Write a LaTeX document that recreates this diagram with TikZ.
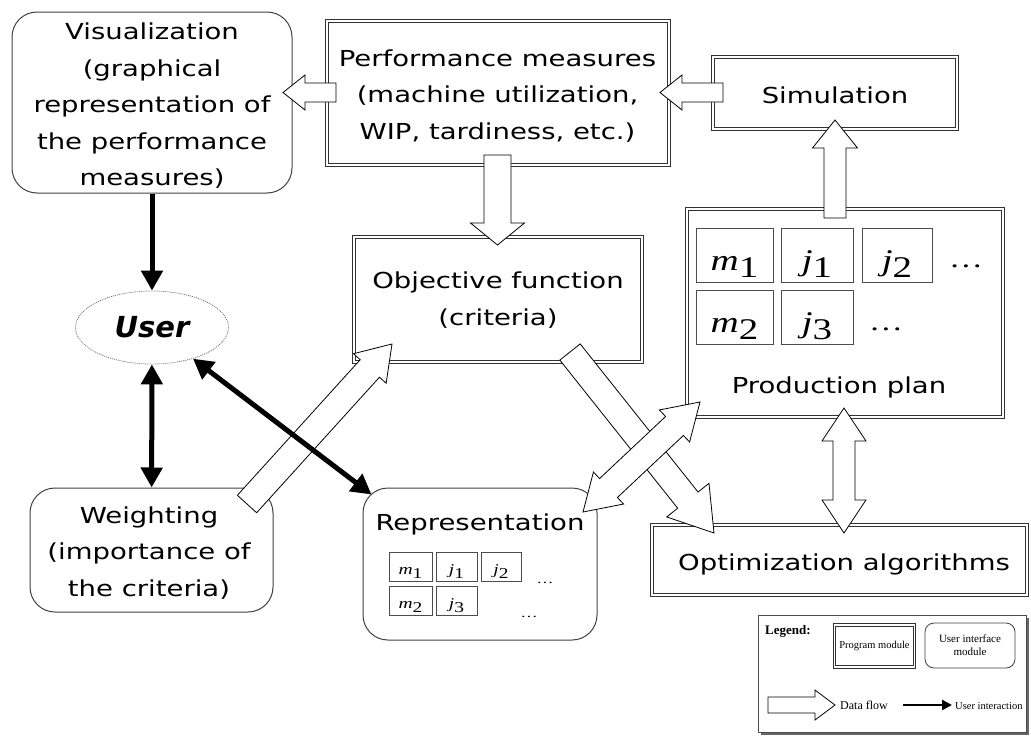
\documentclass[tikz,border=0pt]{standalone}
\usepackage{fontspec}
\usepackage{graphicx}
\usetikzlibrary{arrows.meta,calc,shapes.geometric}
\newfontfamily\mainf[FakeStretch=1.25]{DejaVu Sans}
\newfontfamily\userf{DejaVu Sans}
\newfontfamily\cellf[FakeStretch=1.3]{Liberation Serif}
\newfontfamily\legf{Liberation Serif}
\newcommand\mysub[2]{{\itshape #1}\raisebox{-0.25em}{#2}}
% single block arrow: tail, tip, half shaft, half head, head length
\newcommand\blockarr[5]{%
  \coordinate (ba-h) at ($(#2)!#5!(#1)$);
  \draw[blockarrow] ($(#1)!#3!90:(#2)$) -- ($(ba-h)!#3!90:(#2)$) -- ($(ba-h)!#4!90:(#2)$) -- (#2)
    -- ($(ba-h)!#4!-90:(#2)$) -- ($(ba-h)!#3!-90:(#2)$) -- ($(#1)!#3!-90:(#2)$) -- cycle;}
% double block arrow
\newcommand\dblockarr[5]{%
  \coordinate (ba-h) at ($(#2)!#5!(#1)$);
  \coordinate (ba-g) at ($(#1)!#5!(#2)$);
  \draw[blockarrow] (#1) -- ($(ba-g)!#4!90:(#2)$) -- ($(ba-g)!#3!90:(#2)$) -- ($(ba-h)!#3!90:(#2)$)
    -- ($(ba-h)!#4!90:(#2)$) -- (#2) -- ($(ba-h)!#4!-90:(#2)$) -- ($(ba-h)!#3!-90:(#2)$)
    -- ($(ba-g)!#3!-90:(#2)$) -- ($(ba-g)!#4!-90:(#2)$) -- cycle;}
\begin{document}
\begin{tikzpicture}[x=1pt,y=-1pt,
  prog/.style={draw=black!80, double=white, double distance=2.2pt, line width=1.1pt, inner sep=0pt},
  ui/.style={draw=black!75, line width=1pt, rounded corners=25pt, inner sep=0pt},
  txt/.style={font=\mainf\fontsize{22}{36.5}\selectfont, align=center, inner sep=0pt},
  cell/.style={draw=black!70, line width=0.8pt, inner sep=0pt},
  bigcell/.style={cell, font=\cellf\fontsize{30}{30}\selectfont, text height=37pt, text depth=7pt},
  smallcell/.style={cell, font=\cellf\fontsize{15}{15}\selectfont, text height=20pt, text depth=4pt},
  blockarrow/.style={draw=black, fill=white, line width=0.8pt, line join=miter},
  uarrow/.style={line width=5pt, -{Triangle[length=20pt,width=21pt]}},
  udarrow/.style={line width=5pt, {Triangle[length=20pt,width=21pt]}-{Triangle[length=20pt,width=21pt]}},
  legfont/.style={font=\legf\fontsize{11}{13}\selectfont, inner sep=0pt}]
\useasboundingbox (0,0) rectangle (1031,736);

% ---------- boxes ----------
\node[ui, minimum width=280pt, minimum height=181pt] (vis) at (152,102.5) {};
\node[txt] (vis-t) at (152,106) {Visualization\\(graphical\\representation of\\the performance\\measures)};

\node[prog, minimum width=342pt, minimum height=144pt] (perf) at (498,93) {};
\node[txt] (perf-t) at (497.5,96) {Performance measures\\(machine utilization,\\WIP, tardiness, etc.)};

\node[prog, minimum width=244pt, minimum height=72pt] (sim) at (835,93) {};
\node[txt, anchor=base] (sim-t) at (835,103) {Simulation};

\node[prog, minimum width=288pt, minimum height=125pt] (obj) at (498,299.5) {};
\node[txt] (obj-t) at (498,300) {Objective function\\(criteria)};

\node[prog, minimum width=316pt, minimum height=208pt] (prod) at (845,313) {};
\node[bigcell, minimum width=77pt, minimum height=54pt] (pm1) at (734.5,255) {\mysub{m}{1}};
\node[bigcell, minimum width=72pt, minimum height=54pt] (pj1) at (817,255) {\mysub{j}{1}};
\node[bigcell, minimum width=70pt, minimum height=54pt] (pj2) at (897,255) {\mysub{j}{2}};
\node[bigcell, minimum width=77pt, minimum height=54pt] (pm2) at (734.5,317) {\mysub{m}{2}};
\node[bigcell, minimum width=72pt, minimum height=54pt] (pj3) at (817,317) {\mysub{j}{3}};
\node[font=\cellf\fontsize{26}{26}\selectfont, inner sep=0pt] (pd1) at (966,266) {\dots};
\node[font=\cellf\fontsize{26}{26}\selectfont, inner sep=0pt] (pd2) at (886,329) {\dots};
\node[txt, anchor=base] (prod-t) at (839,393) {Production plan};

\node[prog, minimum width=375pt, minimum height=70pt] (opt) at (839.5,560) {};
\node[txt, anchor=base] (opt-t) at (844,570) {Optimization algorithms};

\node[ui, minimum width=243pt, minimum height=124pt] (wgt) at (151.5,550) {};
\node[txt] (wgt-t) at (149,553) {Weighting\\(importance of\\the criteria)};

\node[ui, minimum width=234pt, minimum height=152pt] (rep) at (480,564) {};
\node[txt, anchor=base] (rep-t) at (480,530) {Representation};
\node[smallcell, minimum width=43pt, minimum height=29pt] (rm1) at (410.5,566.5) {\mysub{m}{1}};
\node[smallcell, minimum width=41pt, minimum height=29pt] (rj1) at (456.5,566.5) {\mysub{j}{1}};
\node[smallcell, minimum width=40pt, minimum height=29pt] (rj2) at (501,566.5) {\mysub{j}{2}};
\node[smallcell, minimum width=43pt, minimum height=29pt] (rm2) at (410.5,600.5) {\mysub{m}{2}};
\node[smallcell, minimum width=41pt, minimum height=29pt] (rj3) at (456.5,600.5) {\mysub{j}{3}};
\node[font=\cellf\fontsize{13}{13}\selectfont, inner sep=0pt] (rd1) at (545,583) {\dots};
\node[font=\cellf\fontsize{13}{13}\selectfont, inner sep=0pt] (rd2) at (529,617) {\dots};

\node[ellipse, draw=black!55, dash pattern=on 1pt off 1pt, line width=0.8pt, minimum width=153pt,
      minimum height=73pt, inner sep=0pt, font=\userf\bfseries\itshape\fontsize{29}{29}\selectfont] (user) at (152,327.5) {User};

% ---------- data-flow (block) arrows ----------
\coordinate (a1s) at (723,92.5);   \coordinate (a1e) at (660,92.5);
\coordinate (a2s) at (336,92.5);   \coordinate (a2e) at (283,92.5);
\coordinate (a3s) at (497.5,155);  \coordinate (a3e) at (497.5,245);
\coordinate (a4s) at (835,218);    \coordinate (a4e) at (835,120);
\coordinate (a5s) at (844,408);    \coordinate (a5e) at (844,533);
\coordinate (a6s) at (247,504);    \coordinate (a6e) at (392,344);
\coordinate (a7s) at (570,352);    \coordinate (a7e) at (714,533);
\coordinate (a8s) at (583,512);    \coordinate (a8e) at (700,402);
\blockarr{a1s}{a1e}{9.5pt}{17.5pt}{22pt}
\blockarr{a2s}{a2e}{9.5pt}{17.5pt}{22pt}
\blockarr{a3s}{a3e}{13.5pt}{27pt}{22pt}
\blockarr{a4s}{a4e}{11pt}{22.5pt}{28pt}
\dblockarr{a5s}{a5e}{11pt}{22pt}{33pt}
\blockarr{a6s}{a6e}{13pt}{22pt}{33pt}
\blockarr{a7s}{a7e}{13pt}{27pt}{42pt}
\dblockarr{a8s}{a8e}{13pt}{22pt}{35pt}

% ---------- user interaction arrows ----------
\draw[uarrow] (vis) -- (user);
\draw[udarrow] (user) -- (wgt);
\draw[udarrow] (user) -- ([shift={(9,7)}]rep.north west);

% ---------- legend ----------
\fill[black!60] (761,618) rectangle (1029,735);
\node[draw=black!70, fill=white, line width=0.8pt, minimum width=268pt, minimum height=117pt, inner sep=0pt] (leg) at (892,673.5) {};
\node[font=\legf\bfseries\fontsize{13}{13}\selectfont, anchor=base west, inner sep=0pt] (leg-t) at (765,634) {Legend:};
\node[prog, legfont, minimum width=80pt, minimum height=42pt, line width=0.8pt, double distance=1.6pt, font=\legf\fontsize{10.5}{13}\selectfont] (leg-p) at (874.5,646) {Program module};
\node[ui, legfont, rounded corners=9pt, line width=0.8pt, align=center, minimum width=90pt, minimum height=45pt] (leg-u) at (970,645.5) {User interface\\module};
\coordinate (la1) at (768,705); \coordinate (la2) at (835,705);
\blockarr{la1}{la2}{8pt}{15pt}{20pt}
\node[legfont, anchor=base west, font=\legf\fontsize{12}{13}\selectfont] (leg-d) at (840,709) {Data flow};
\coordinate (lb1) at (903,705); \coordinate (lb2) at (952,705);
\draw[line width=2.5pt, -{Triangle[length=10pt,width=10pt]}] (lb1) -- (lb2);
\node[legfont, anchor=base west, font=\legf\fontsize{10.5}{13}\selectfont] (leg-i) at (955,709) {User interaction};
\end{tikzpicture}
\end{document}
